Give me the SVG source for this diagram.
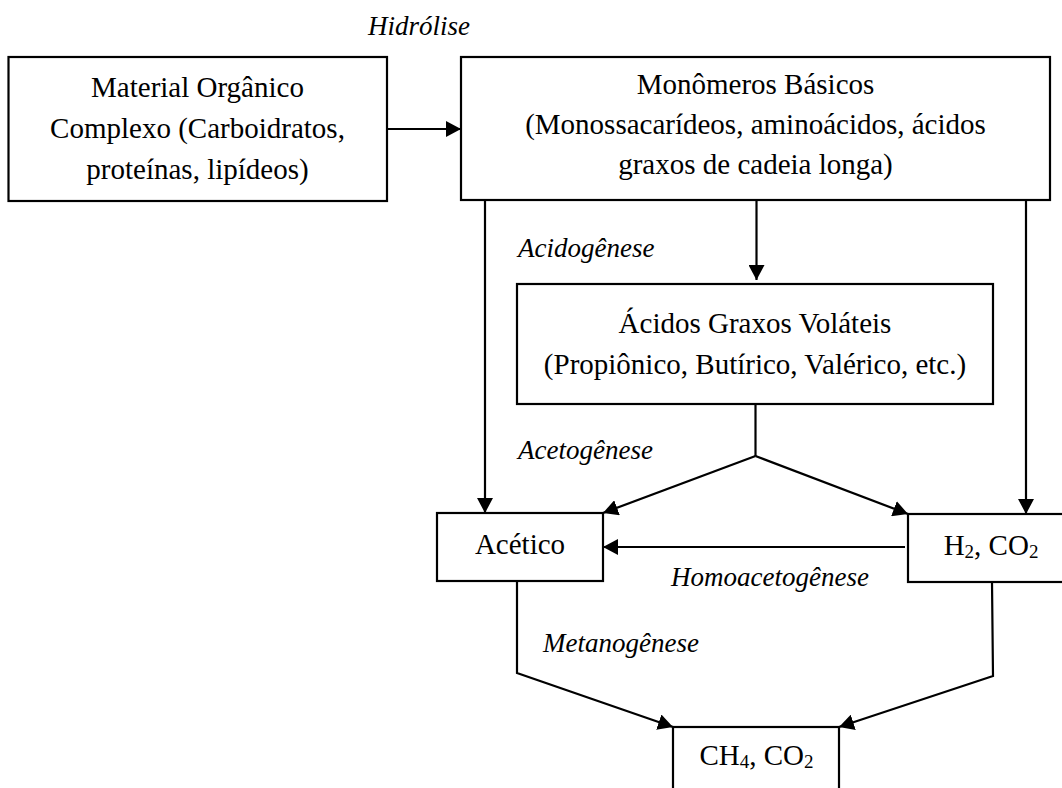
<svg xmlns="http://www.w3.org/2000/svg" width="1062" height="788" viewBox="0 0 1062 788">
<defs>
<style>
.box{fill:#fff;stroke:#000;stroke-width:2.2}
.t{font-family:"Liberation Serif","Times New Roman",serif;font-size:29px;fill:#000;text-anchor:middle}
.lbl{font-family:"Liberation Serif","Times New Roman",serif;font-size:27px;font-style:italic;fill:#000}
.c{fill:none;stroke:#000;stroke-width:2.2}
.s{font-size:19px}
</style>
<marker id="ah" viewBox="0 0 15 16" refX="15" refY="8" markerWidth="15" markerHeight="16" markerUnits="userSpaceOnUse" orient="auto">
<path d="M0,0 L15,8 L0,16 z" fill="#000"/>
</marker>
</defs>
<rect width="1062" height="788" fill="#fff"/>

<g id="connectors">
<line class="c" x1="387" y1="129" x2="461" y2="129" marker-end="url(#ah)"/>
<line class="c" x1="756.5" y1="200" x2="756.5" y2="280" marker-end="url(#ah)"/>
<line class="c" x1="485" y1="201" x2="485" y2="513" marker-end="url(#ah)"/>
<line class="c" x1="1026" y1="201" x2="1026" y2="514" marker-end="url(#ah)"/>
<polyline class="c" points="755.5,404 755.5,456"/>
<line class="c" x1="755.5" y1="456" x2="603" y2="513" marker-end="url(#ah)"/>
<line class="c" x1="755.5" y1="456" x2="908" y2="514" marker-end="url(#ah)"/>
<line class="c" x1="905" y1="547" x2="603" y2="547" marker-end="url(#ah)"/>
<polyline class="c" points="517,581 517,673 673,727" marker-end="url(#ah)"/>
<polyline class="c" points="992,582 993,676 839,727" marker-end="url(#ah)"/>
</g>

<g id="labels">
<text class="lbl" x="368" y="35">Hidrólise</text>
<text class="lbl" x="518" y="257">Acidogênese</text>
<text class="lbl" x="518" y="459">Acetogênese</text>
<text class="lbl" x="671" y="586">Homoacetogênese</text>
<text class="lbl" x="543" y="652">Metanogênese</text>
</g>

<g id="n-material">
<rect class="box" x="8.5" y="57" width="378.5" height="144"/>
<text class="t" x="197.5" y="97">Material Orgânico</text>
<text class="t" x="197.5" y="138">Complexo (Carboidratos,</text>
<text class="t" x="197.5" y="179">proteínas, lipídeos)</text>
</g>

<g id="n-monomeros">
<rect class="box" x="461" y="57" width="589" height="143"/>
<text class="t" x="755.5" y="94">Monômeros Básicos</text>
<text class="t" x="755.5" y="134">(Monossacarídeos, aminoácidos, ácidos</text>
<text class="t" x="755.5" y="174">graxos de cadeia longa)</text>
</g>

<g id="n-agv">
<rect class="box" x="517" y="284" width="476" height="120"/>
<text class="t" x="755" y="333">Ácidos Graxos Voláteis</text>
<text class="t" x="755" y="374">(Propiônico, Butírico, Valérico, etc.)</text>
</g>

<g id="n-acetico">
<rect class="box" x="437" y="513" width="166" height="68"/>
<text class="t" x="520" y="554">Acético</text>
</g>

<g id="n-h2co2">
<rect class="box" x="908" y="514" width="168" height="68"/>
<text class="t" x="991" y="555">H<tspan class="s" dy="3">2</tspan><tspan dy="-3">, CO</tspan><tspan class="s" dy="3">2</tspan></text>
</g>

<g id="n-ch4co2">
<rect class="box" x="673" y="727" width="166" height="80"/>
<text class="t" x="756.5" y="765">CH<tspan class="s" dy="3">4</tspan><tspan dy="-3">, CO</tspan><tspan class="s" dy="3">2</tspan></text>
</g>
</svg>
